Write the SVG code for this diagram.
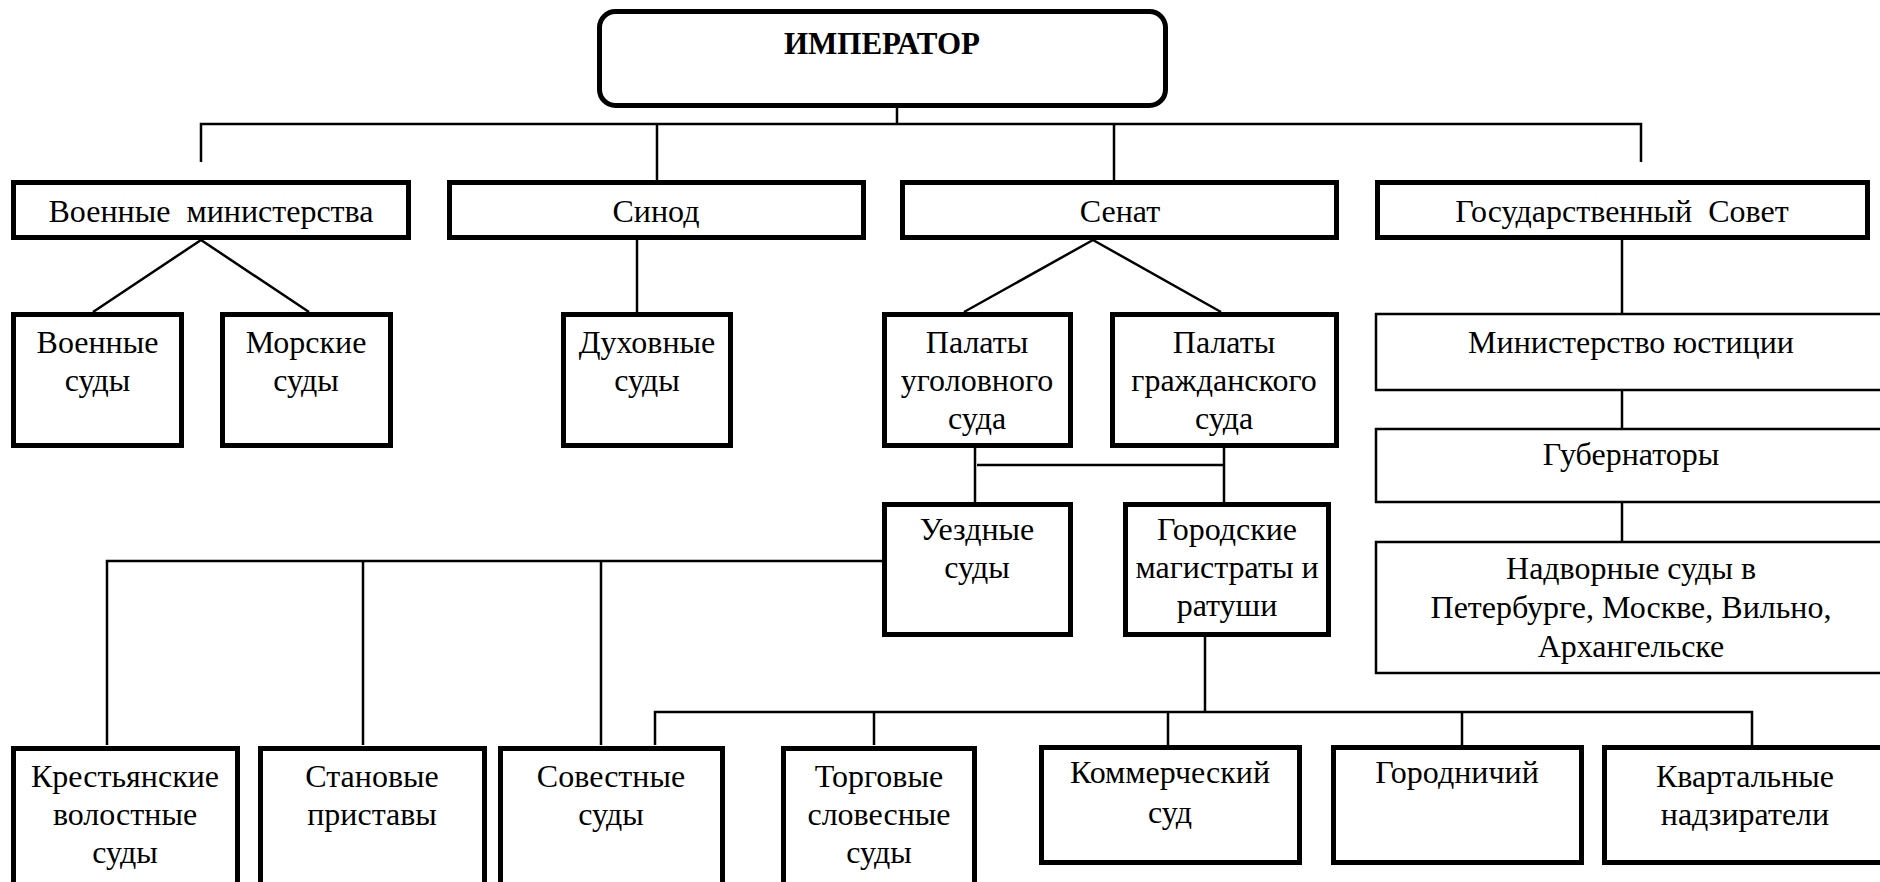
<svg xmlns="http://www.w3.org/2000/svg" width="1880" height="882" viewBox="0 0 1880 882">
<style>
.b{fill:#fff;stroke:#000;stroke-width:5}
.t{fill:#fff;stroke:#000;stroke-width:2.5}
text{font-family:"Liberation Serif","Times New Roman",serif;font-size:32px;fill:#000;text-anchor:middle}
.bold{font-weight:bold;font-size:31px}
#connectors path{fill:none;stroke:#000;stroke-width:2.5}
</style>
<rect width="1880" height="882" fill="#fff"/>
<g id="connectors">
<path d="M897 103V124"/>
<path d="M201 162V124H1641V162"/>
<path d="M657 124V180"/>
<path d="M1114 124V180"/>
<path d="M201 240L93 312M201 240L309 312"/>
<path d="M637 240V312"/>
<path d="M1093 240L964 312M1093 240L1221 312"/>
<path d="M1622 240V313"/>
<path d="M1622 391V428"/>
<path d="M1622 503V541"/>
<path d="M975 448V502M1224 448V502M977 465H1224"/>
<path d="M107 745V561H882M363 561V745M601 561V745"/>
<path d="M1205 637V712M655 745V712H1752V745M874 712V745M1168 712V745M1462 712V745"/>
</g>
<g id="emperor"><rect class="b" x="599.5" y="11.5" width="566" height="94" rx="16"/><text class="bold" x="882" y="54">ИМПЕРАТОР</text></g>
<g id="voen-min"><rect class="b" x="13.5" y="182.5" width="395" height="55"/><text x="211" y="222" xml:space="preserve">Военные  министерства</text></g>
<g id="sinod"><rect class="b" x="449.5" y="182.5" width="414" height="55"/><text x="656" y="222">Синод</text></g>
<g id="senat"><rect class="b" x="902.5" y="182.5" width="434" height="55"/><text x="1120" y="222">Сенат</text></g>
<g id="gossovet"><rect class="b" x="1377.5" y="182.5" width="490" height="55"/><text x="1622" y="222" xml:space="preserve">Государственный  Совет</text></g>
<g id="voen-sudy"><rect class="b" x="13.5" y="314.5" width="168" height="131"/><text x="97.5" y="353">Военные</text><text x="97.5" y="391">суды</text></g>
<g id="morskie"><rect class="b" x="222.5" y="314.5" width="168" height="131"/><text x="306" y="353">Морские</text><text x="306" y="391">суды</text></g>
<g id="duhovnye"><rect class="b" x="563.5" y="314.5" width="167" height="131"/><text x="647" y="353">Духовные</text><text x="647" y="391">суды</text></g>
<g id="palaty-ugol"><rect class="b" x="884.5" y="314.5" width="186" height="131"/><text x="977" y="353">Палаты</text><text x="977" y="391">уголовного</text><text x="977" y="429">суда</text></g>
<g id="palaty-grazh"><rect class="b" x="1112.5" y="314.5" width="224" height="131"/><text x="1224" y="353">Палаты</text><text x="1224" y="391">гражданского</text><text x="1224" y="429">суда</text></g>
<g id="uezdnye"><rect class="b" x="884.5" y="504.5" width="186" height="130"/><text x="977" y="540">Уездные</text><text x="977" y="578">суды</text></g>
<g id="gorodskie"><rect class="b" x="1125.5" y="504.5" width="203" height="130"/><text x="1227" y="540">Городские</text><text x="1227" y="578">магистраты и</text><text x="1227" y="616">ратуши</text></g>
<g id="minjust"><rect class="t" x="1376" y="314" width="520" height="76"/><text x="1631" y="353">Министерство юстиции</text></g>
<g id="gubernatory"><rect class="t" x="1376" y="429" width="520" height="73"/><text x="1631" y="465">Губернаторы</text></g>
<g id="nadvornye"><rect class="t" x="1376" y="542" width="520" height="131"/><text x="1631" y="579">Надворные суды в</text><text x="1631" y="618">Петербурге, Москве, Вильно,</text><text x="1631" y="657">Архангельске</text></g>
<g id="krestyanskie"><rect class="b" x="13.5" y="748.5" width="224" height="150"/><text x="125" y="787">Крестьянские</text><text x="125" y="825">волостные</text><text x="125" y="863">суды</text></g>
<g id="stanovye"><rect class="b" x="260.5" y="748.5" width="224" height="150"/><text x="372" y="787">Становые</text><text x="372" y="825">приставы</text></g>
<g id="sovestnye"><rect class="b" x="500.5" y="748.5" width="222" height="150"/><text x="611" y="787">Совестные</text><text x="611" y="825">суды</text></g>
<g id="torgovye"><rect class="b" x="783.5" y="748.5" width="191" height="150"/><text x="879" y="787">Торговые</text><text x="879" y="825">словесные</text><text x="879" y="863">суды</text></g>
<g id="kommercheskiy"><rect class="b" x="1041.5" y="747.5" width="258" height="115"/><text x="1170" y="783">Коммерческий</text><text x="1170" y="823">суд</text></g>
<g id="gorodnichiy"><rect class="b" x="1333.5" y="747.5" width="248" height="115"/><text x="1457" y="783">Городничий</text></g>
<g id="kvartalnye"><rect class="b" x="1604.5" y="747.5" width="300" height="115"/><text x="1745" y="787">Квартальные</text><text x="1745" y="825">надзиратели</text></g>
</svg>
